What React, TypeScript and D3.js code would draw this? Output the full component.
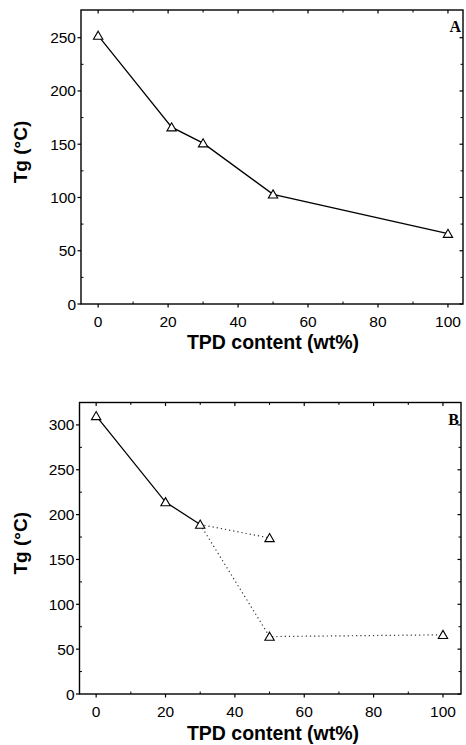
import React from "react";
import * as d3 from "d3";

const panelAX = [0, 21, 30, 50, 100];
const panelAY = [252, 166, 151, 103, 66];

const panelBSolidX = [0, 20, 30];
const panelBSolidY = [310, 214, 189];
const panelBDot1X = [30, 50];
const panelBDot1Y = [189, 174];
const panelBDot2X = [30, 50, 100];
const panelBDot2Y = [189, 64, 66];
const panelBPointsX = [0, 20, 30, 50, 50, 100];
const panelBPointsY = [310, 214, 189, 174, 64, 66];

const xTicks = [0, 20, 40, 60, 80, 100];
const xMinor = [10, 30, 50, 70, 90];
const yTicksA = [0, 50, 100, 150, 200, 250];
const yMinorA = [25, 75, 125, 175, 225];
const yTicksB = [0, 50, 100, 150, 200, 250, 300];
const yMinorB = [25, 75, 125, 175, 225, 275];

const xTitle = "TPD content (wt%)";
const yTitle = "Tg (°C)";

type Series = { xs: number[]; ys: number[]; kind: "solid" | "dotted" | "markers" };

function Panel(props: {
  left: number; top: number; right: number; bottom: number;
  xDomain: [number, number]; yDomain: [number, number];
  yTicks: number[]; yMinor: number[]; series: Series[]; letter: string;
  titleY: number;
}) {
  const { left, top, right, bottom, xDomain, yDomain, yTicks, yMinor, series, letter, titleY } = props;
  const x = d3.scaleLinear().domain(xDomain).range([left, right]);
  const y = d3.scaleLinear().domain(yDomain).range([bottom, top]);
  const line = d3.line<[number, number]>().x(d => x(d[0])).y(d => y(d[1]));
  const tri = d3.symbol().type(d3.symbolTriangle).size(38)();
  const font = "'Liberation Sans', Arial, sans-serif";
  return (
    <g>
      {series.filter(s => s.kind !== "markers").map((s, i) => (
        <path key={"l" + i}
          d={line(s.xs.map((v, j) => [v, s.ys[j]] as [number, number])) || ""}
          fill="none" stroke={s.kind === "dotted" ? "#333" : "#000"}
          strokeWidth={s.kind === "dotted" ? 1.2 : 1.3}
          strokeDasharray={s.kind === "dotted" ? "1.2 3" : undefined} />
      ))}
      {series.filter(s => s.kind === "markers").map((s, i) =>
        s.xs.map((v, j) => (
          <path key={"m" + i + "_" + j} d={tri || ""}
            transform={`translate(${x(v)},${y(s.ys[j]) + 1})`}
            fill="#fff" stroke="#000" strokeWidth={1.1} />
        ))
      )}
      <rect x={left} y={top} width={right - left} height={bottom - top}
        fill="none" stroke="#000" strokeWidth={1.4} />
      {xTicks.map(t => (
        <g key={"xt" + t}>
          <line x1={x(t)} x2={x(t)} y1={bottom} y2={bottom + 3.5} stroke="#000" strokeWidth={1.2} />
          <line x1={x(t)} x2={x(t)} y1={top} y2={top + 3.5} stroke="#000" strokeWidth={1.2} />
          <text x={x(t)} y={bottom + 23} textAnchor="middle" fontFamily={font} fontSize={15.5}>{t}</text>
        </g>
      ))}
      {xMinor.map(t => (
        <g key={"xm" + t}>
          <line x1={x(t)} x2={x(t)} y1={bottom} y2={bottom - 2.5} stroke="#000" strokeWidth={1} />
          <line x1={x(t)} x2={x(t)} y1={top} y2={top + 2.5} stroke="#000" strokeWidth={1} />
        </g>
      ))}
      {yTicks.map(t => (
        <g key={"yt" + t}>
          <line x1={left - 3.5} x2={left} y1={y(t)} y2={y(t)} stroke="#000" strokeWidth={1.2} />
          <line x1={right - 3.5} x2={right} y1={y(t)} y2={y(t)} stroke="#000" strokeWidth={1.2} />
          <text x={left - 5} y={y(t) + 5.5} textAnchor="end" fontFamily={font} fontSize={15.5}>{t}</text>
        </g>
      ))}
      {yMinor.map(t => (
        <g key={"ym" + t}>
          <line x1={left} x2={left + 2.5} y1={y(t)} y2={y(t)} stroke="#000" strokeWidth={1} />
          <line x1={right - 2.5} x2={right} y1={y(t)} y2={y(t)} stroke="#000" strokeWidth={1} />
        </g>
      ))}
      <text x={273} y={titleY} textAnchor="middle" fontFamily={font}
        fontWeight="bold" fontSize={19.5}>{xTitle}</text>
      <text transform={`translate(27,${(top + bottom) / 2 - 5}) rotate(-90)`} textAnchor="middle"
        fontFamily={font} fontWeight="bold" fontSize={19}>{yTitle}</text>
      <text x={right - 2} y={top + 22} textAnchor="end" fontFamily="'Liberation Serif', 'Times New Roman', serif"
        fontWeight="bold" fontSize={16}>{letter}</text>
    </g>
  );
}

export default function App() {
  return (
    <svg width={466} height={745} style={{ position: "absolute", left: 0, top: 0, background: "#fff" }}>
      <rect x={0} y={0} width={466} height={745} fill="#fff" />
      <Panel left={81} top={10} right={463} bottom={304}
        xDomain={[-4.9, 104.3]} yDomain={[0, 276]}
        yTicks={yTicksA} yMinor={yMinorA} letter="A" titleY={349}
        series={[
          { xs: panelAX, ys: panelAY, kind: "solid" },
          { xs: panelAX, ys: panelAY, kind: "markers" },
        ]} />
      <Panel left={79.5} top={402.5} right={461} bottom={694}
        xDomain={[-4.8, 105.2]} yDomain={[0, 325]}
        yTicks={yTicksB} yMinor={yMinorB} letter="B" titleY={740}
        series={[
          { xs: panelBDot1X, ys: panelBDot1Y, kind: "dotted" },
          { xs: panelBDot2X, ys: panelBDot2Y, kind: "dotted" },
          { xs: panelBSolidX, ys: panelBSolidY, kind: "solid" },
          { xs: panelBPointsX, ys: panelBPointsY, kind: "markers" },
        ]} />
    </svg>
  );
}
